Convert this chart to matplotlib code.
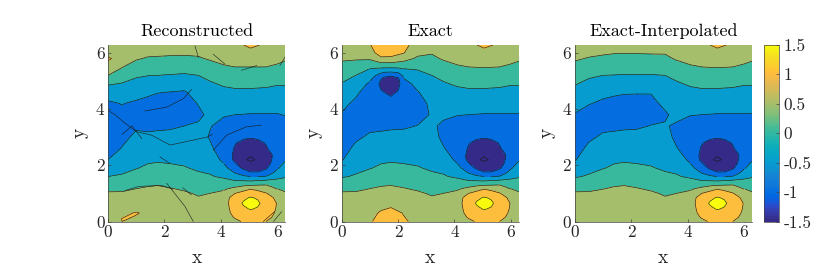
import numpy as np
import matplotlib
matplotlib.use('Agg')
import matplotlib.pyplot as plt
from matplotlib.colors import ListedColormap, Normalize
from matplotlib.cm import ScalarMappable

titles = ['Reconstructed', 'Exact', 'Exact-Interpolated']
ticks = [0, 2, 4, 6]
cbar_ticks = [-1.5, -1, -0.5, 0, 0.5, 1, 1.5]
cbar_labels = ['-1.5', '-1', '-0.5', '0', '0.5', '1', '1.5']
levels = [-1.5, -1, -0.5, 0, 0.5, 1, 1.5]

# grid, one inner list per x column
X = [0, 0.5, 1, 1.4, 1.75, 2.2, 2.7, 3.2, 3.6, 4.1, 4.5, 5.05, 5.6, 6.0, 6.28]
Y = [0, 0.3, 0.65, 1, 1.3, 1.6, 1.9, 2.2, 2.6, 3, 3.4, 3.8, 4.2, 4.6, 4.9, 5.2, 5.5, 5.8, 6.0, 6.28]

exact_z = [
    [.9, .85, .72, .55, .28, -.04, -.29, -.54, -.7, -.8, -.7, -.53, -.34, -.16, -.02, .17, .37, .56, .7, .9],
    [.92, .85, .72, .55, .31, .04, -.1, -.23, -.4, -.58, -.75, -.8, -.62, -.38, -.19, 0, .27, .55, .7, .9],
    [.95, .88, .75, .6, .42, .19, -.02, -.13, -.28, -.43, -.6, -.75, -.9, -.8, -.58, -.25, .07, .57, .78, .98],
    [1.15, 1.05, .85, .65, .47, .23, .07, -.07, -.25, -.41, -.58, -.75, -.88, -.98, -1.02, -.55, .1, .9, 1.25, 1.2],
    [1.2, 1.15, .88, .66, .49, .3, .11, -.05, -.22, -.39, -.56, -.75, -.9, -1.1, -1.2, -.95, .1, .9, 1.2, 1.3],
    [1.05, .98, .78, .6, .45, .25, .08, -.07, -.22, -.38, -.55, -.7, -.85, -.9, -.72, -.38, .1, .7, 1.02, 1.1],
    [.9, .82, .7, .55, .38, .2, .03, -.09, -.22, -.35, -.49, -.62, -.68, -.53, -.33, -.12, .07, .42, .62, .85],
    [.82, .72, .62, .46, .28, .09, -.06, -.15, -.25, -.33, -.43, -.47, -.4, -.25, -.12, 0, .18, .4, .53, .75],
    [.85, .75, .63, .5, .28, .04, -.1, -.25, -.46, -.6, -.58, -.42, -.28, -.15, -.04, .1, .3, .55, .68, .85],
    [.92, .9, .85, .62, .28, -.07, -.38, -.6, -.78, -.85, -.72, -.48, -.29, -.1, .05, .25, .45, .65, .75, .92],
    [.97, 1.2, 1.4, 1.05, .33, -.3, -.88, -1.15, -1.05, -.9, -.72, -.5, -.3, -.08, .1, .3, .5, .72, .82, .88],
    [1.2, 1.4, 1.62, 1.3, .45, -.5, -1.25, -1.58, -1.3, -.97, -.75, -.52, -.3, -.08, .1, .3, .52, .78, .85, 1.1],
    [1.0, 1.2, 1.35, 1.02, .5, -.38, -.92, -1.2, -1.08, -.88, -.7, -.52, -.3, -.1, .08, .28, .5, .72, .83, .93],
    [.85, .95, .98, .72, .33, -.14, -.55, -.8, -.85, -.8, -.7, -.52, -.33, -.13, .03, .23, .43, .63, .75, .85],
    [.8, .75, .68, .55, .28, -.04, -.29, -.54, -.7, -.8, -.7, -.53, -.3, -.12, .03, .2, .37, .56, .65, .8],
]

interp_left = [
    [.8, .75, .68, .55, .28, -.04, -.29, -.54, -.7, -.8, -.7, -.53, -.3, -.12, .03, .2, .37, .56, .65, .8],
    [.8, .75, .68, .55, .31, .04, -.1, -.23, -.4, -.58, -.72, -.72, -.47, -.25, -.1, .06, .25, .47, .6, .8],
    [.8, .76, .7, .58, .42, .19, -.02, -.13, -.28, -.43, -.6, -.72, -.6, -.35, -.15, 0, .2, .42, .55, .75],
    [.8, .77, .72, .62, .47, .23, .07, -.07, -.25, -.41, -.58, -.72, -.65, -.42, -.2, -.01, .18, .38, .52, .72],
    [.8, .78, .74, .63, .49, .3, .11, -.05, -.22, -.39, -.56, -.72, -.67, -.46, -.22, -.02, .17, .37, .52, .72],
    [.8, .77, .7, .6, .45, .25, .08, -.07, -.22, -.38, -.55, -.7, -.66, -.47, -.22, -.02, .17, .37, .52, .7],
    [.78, .74, .66, .55, .38, .2, .03, -.09, -.22, -.35, -.49, -.62, -.6, -.48, -.22, -.02, .17, .38, .53, .7],
    [.72, .68, .6, .46, .28, .09, -.06, -.15, -.25, -.33, -.47, -.55, -.42, -.3, -.17, 0, .17, .4, .53, .72],
    [.75, .72, .63, .5, .28, .04, -.1, -.25, -.47, -.6, -.55, -.4, -.27, -.15, -.05, .1, .3, .55, .68, .85],
]
interp_z = interp_left + exact_z[9:]

recon_z = [
    [.8, .76, .68, .55, .28, 0, -.25, -.5, -.7, -.8, -.8, -.75, -.58, -.25, .05, .5, .75, 1.1, .72, .8],
    [.8, .78, .72, .55, .31, .04, -.1, -.3, -.48, -.6, -.7, -.62, -.48, -.2, -.03, .28, .52, .7, .72, .8],
    [.8, .78, .72, .6, .42, .19, -.02, -.13, -.27, -.42, -.55, -.75, -.58, -.3, -.12, .05, .28, .55, .7, .8],
    [.8, .78, .72, .62, .47, .23, .07, -.07, -.25, -.41, -.6, -.78, -.65, -.4, -.18, .01, .2, .46, .6, .75],
    [.8, .78, .74, .63, .49, .3, .11, -.05, -.22, -.39, -.58, -.78, -.7, -.48, -.22, 0, .2, .45, .58, .72],
    [.8, .78, .7, .6, .45, .25, .08, -.07, -.22, -.38, -.56, -.72, -.7, -.51, -.24, -.02, .18, .43, .57, .7],
    [.78, .75, .66, .55, .38, .2, .03, -.09, -.22, -.35, -.5, -.65, -.68, -.55, -.27, -.04, .15, .42, .56, .7],
    [.72, .7, .6, .46, .28, .09, -.06, -.15, -.25, -.33, -.45, -.58, -.48, -.3, -.15, 0, .2, .45, .58, .72],
    [.75, .72, .63, .5, .28, .04, -.1, -.25, -.4, -.53, -.47, -.42, -.3, -.15, -.05, .1, .3, .55, .68, .85],
    [.85, .88, .85, .62, .28, -.07, -.38, -.6, -.78, -.82, -.65, -.46, -.29, -.1, .05, .25, .45, .65, .75, .9],
    [.95, 1.2, 1.4, 1.05, .33, -.3, -.95, -1.15, -1.05, -.85, -.7, -.5, -.3, -.08, .1, .3, .5, .72, .82, .88],
    [1.2, 1.4, 1.62, 1.25, .45, -.5, -1.25, -1.58, -1.3, -.97, -.75, -.52, -.3, -.08, .1, .3, .5, .78, .85, 1.1],
    [1.0, 1.2, 1.35, 1.02, .5, -.38, -.92, -1.2, -1.08, -.88, -.7, -.52, -.3, -.1, .08, .28, .5, .72, .83, .93],
    [.85, .95, .98, .72, .33, -.14, -.55, -.8, -.85, -.8, -.7, -.52, -.33, -.13, .03, .23, .43, .63, .75, .85],
    [.8, .78, .68, .55, .28, -.04, -.29, -.54, -.7, -.8, -.7, -.48, -.25, -.1, .03, .2, .37, .55, .68, .8],
]

# finer readings around the peaks, one inner list per y row
peak_x = [4.1, 4.3, 4.5, 4.8, 5.05, 5.3, 5.6, 5.8, 6.0]
peak_y = [0, .15, .3, .45, .65, .85, 1, 1.15, 1.3]
peak_z = [
    [.92, .9, .93, 1.03, 1.15, 1.1, 1.0, .93, .85],
    [.91, .93, 1.03, 1.2, 1.3, 1.25, 1.1, 1.0, .9],
    [.9, .97, 1.12, 1.28, 1.38, 1.33, 1.18, 1.04, .95],
    [.88, 1.0, 1.22, 1.43, 1.53, 1.46, 1.25, 1.07, .97],
    [.85, 1.03, 1.3, 1.55, 1.65, 1.58, 1.3, 1.1, .98],
    [.75, 1.0, 1.18, 1.42, 1.53, 1.45, 1.2, 1.05, .87],
    [.62, .8, 1.0, 1.18, 1.27, 1.2, 1.03, .85, .72],
    [.45, .55, .65, .85, 1.0, .9, .75, .6, .5],
    [.28, .3, .33, .4, .45, .48, .5, .42, .33],
]

trough_x = [4.1, 4.3, 4.5, 4.8, 5.05, 5.3, 5.6, 5.8, 6.0]
trough_y = [1.6, 1.75, 1.9, 2.05, 2.2, 2.35, 2.6, 2.8, 3.0, 3.2]
trough_z = [
    [-.07, -.17, -.3, -.42, -.5, -.5, -.47, -.3, -.14],
    [-.22, -.35, -.55, -.8, -.98, -.98, -.85, -.6, -.34],
    [-.38, -.55, -.8, -1.08, -1.2, -1.2, -1.05, -.85, -.55],
    [-.49, -.72, -.95, -1.28, -1.42, -1.38, -1.15, -.95, -.68],
    [-.6, -.85, -1.12, -1.45, -1.56, -1.46, -1.22, -1.0, -.8],
    [-.67, -.9, -1.1, -1.35, -1.48, -1.38, -1.2, -1.02, -.82],
    [-.78, -.9, -1.03, -1.2, -1.25, -1.2, -1.03, -.92, -.85],
    [-.82, -.88, -.98, -1.08, -1.12, -1.08, -.98, -.9, -.83],
    [-.85, -.85, -.88, -.95, -.97, -.95, -.88, -.85, -.8],
    [-.78, -.8, -.81, -.84, -.86, -.84, -.79, -.77, -.75],
]

# second trough, only in the exact panel
trough2_x = [1.0, 1.3, 1.5, 1.75, 2.0, 2.2]
trough2_y = [4.2, 4.5, 4.7, 4.9, 5.05, 5.2, 5.35, 5.5]
trough2_z = [
    [-.9, -.88, -.88, -.9, -.88, -.85],
    [-.82, -.92, -.95, -1.02, -.93, -.88],
    [-.7, -.96, -1.05, -1.12, -1.02, -.85],
    [-.58, -.98, -1.12, -1.2, -1.15, -.72],
    [-.42, -.9, -1.12, -1.2, -1.12, -.6],
    [-.25, -.6, -.9, -.95, -.85, -.38],
    [-.1, -.25, -.35, -.38, -.32, -.12],
    [.07, .1, .1, .1, .1, .1],
]

# orange sliver at the bottom left of the reconstructed panel
sliver_x = [.3, .5, .7, .9, 1.1, 1.2]
sliver_y = [0, .1, .2, .3, .4]
sliver_z = [
    [.8, 1.0, .85, .8, .8, .8],
    [.8, 1.02, 1.02, .85, .8, .8],
    [.8, .85, 1.02, 1.04, .85, .8],
    [.8, .8, .85, 1.02, 1.02, .8],
    [.8, .8, .8, .85, .85, .8],
]

# the thin black scratches in the reconstructed panel
scratch_x = [
    [0, .25, .6, 1.0, 1.55, 2.2, 2.8, 3.5, 3.7],
    [1.3, 2.08, 2.67, 2.96],
    [3.73, 4.2, 4.9, 5.44],
    [2.08, 2.73, 3.02],
    [.6, 1.1, 1.9, 2.3],
    [3.08, 3.2],
    [3.73, 4.14],
    [4.73, 5.27],
    [6.09, 6.27],
    [1.84, 2.2],
    [5.5, 5.9],
    [5.86, 6.15],
    [2.65, 2.95],
    [.5, .85, 1.2],
]
scratch_y = [
    [3.95, 3.8, 3.5, 3.2, 3.07, 2.72, 2.85, 3.0, 3.1],
    [3.93, 4.07, 4.37, 4.7],
    [2.54, 3.07, 3.37, 3.43],
    [1.36, .53, 0],
    [1.1, 1.25, 1.28, 1.15],
    [6.25, 5.84],
    [5.95, 5.6],
    [5.38, 5.55],
    [5.55, 5.85],
    [2.3, 2.06],
    [0, .35],
    [0, .35],
    [1.2, .95],
    [3.1, 3.4, 2.95],
]

# MATLAB parula
parula = ListedColormap([
    [0.2081, 0.1663, 0.5292], [0.2116, 0.1898, 0.5777], [0.2123, 0.2138, 0.6270], [0.2081, 0.2386, 0.6771],
    [0.1959, 0.2645, 0.7279], [0.1707, 0.2919, 0.7792], [0.1253, 0.3242, 0.8303], [0.0591, 0.3598, 0.8683],
    [0.0117, 0.3875, 0.8820], [0.0060, 0.4086, 0.8828], [0.0165, 0.4266, 0.8786], [0.0329, 0.4430, 0.8720],
    [0.0498, 0.4586, 0.8641], [0.0629, 0.4737, 0.8554], [0.0723, 0.4887, 0.8467], [0.0779, 0.5040, 0.8384],
    [0.0793, 0.5200, 0.8312], [0.0749, 0.5375, 0.8263], [0.0641, 0.5570, 0.8240], [0.0488, 0.5772, 0.8228],
    [0.0343, 0.5966, 0.8199], [0.0265, 0.6137, 0.8135], [0.0239, 0.6287, 0.8038], [0.0231, 0.6418, 0.7913],
    [0.0228, 0.6535, 0.7768], [0.0267, 0.6642, 0.7607], [0.0384, 0.6743, 0.7436], [0.0590, 0.6838, 0.7254],
    [0.0843, 0.6928, 0.7062], [0.1133, 0.7015, 0.6859], [0.1453, 0.7098, 0.6646], [0.1801, 0.7177, 0.6424],
    [0.2178, 0.7250, 0.6193], [0.2586, 0.7317, 0.5954], [0.3022, 0.7376, 0.5712], [0.3482, 0.7424, 0.5473],
    [0.3953, 0.7459, 0.5244], [0.4420, 0.7481, 0.5033], [0.4871, 0.7491, 0.4840], [0.5300, 0.7491, 0.4661],
    [0.5709, 0.7485, 0.4494], [0.6099, 0.7473, 0.4337], [0.6473, 0.7456, 0.4188], [0.6834, 0.7435, 0.4044],
    [0.7184, 0.7411, 0.3905], [0.7525, 0.7384, 0.3768], [0.7858, 0.7356, 0.3633], [0.8185, 0.7327, 0.3498],
    [0.8507, 0.7299, 0.3360], [0.8824, 0.7274, 0.3217], [0.9139, 0.7258, 0.3063], [0.9450, 0.7261, 0.2886],
    [0.9739, 0.7314, 0.2666], [0.9938, 0.7455, 0.2403], [0.9990, 0.7653, 0.2164], [0.9955, 0.7861, 0.1967],
    [0.9880, 0.8066, 0.1794], [0.9789, 0.8271, 0.1633], [0.9697, 0.8481, 0.1475], [0.9626, 0.8705, 0.1309],
    [0.9589, 0.8949, 0.1132], [0.9598, 0.9218, 0.0948], [0.9661, 0.9514, 0.0755], [0.9763, 0.9831, 0.0538],
])

plt.rcParams['font.family'] = ['cmr10', 'DejaVu Serif']
plt.rcParams['axes.unicode_minus'] = False
W, H = 830, 277
GRAY = '#404040'
LINE = '#1a1a1a'
norm = Normalize(-1.5, 1.5)
# every band takes the colour of its lower level, as MATLAB contourf does
fill_levels = [-3] + levels + [3]
fill_colors = [parula(norm(-1.5))] + [parula(norm(v)) for v in levels]


def px_axes(fig, left, right, top, bottom):
    return fig.add_axes([left / W, 1 - bottom / H, (right - left) / W, (bottom - top) / H])


def draw_field(ax, xs, ys, Z, zorder):
    ax.contourf(xs, ys, Z, levels=fill_levels, colors=fill_colors, zorder=zorder)
    ax.contour(xs, ys, Z, levels=levels, colors=LINE, linewidths=0.45, linestyles='solid', zorder=zorder + 1)


def draw_panel(ax, z, title):
    draw_field(ax, X, Y, np.array(z).T, 1)
    draw_field(ax, peak_x, peak_y, np.array(peak_z), 3)
    draw_field(ax, trough_x, trough_y, np.array(trough_z), 3)
    ax.set_xlim(0, 6.28)
    ax.set_ylim(0, 6.28)
    ax.set_xticks(ticks)
    ax.set_yticks(ticks)
    ax.set_xticklabels([str(t) for t in ticks])
    ax.set_yticklabels([str(t) for t in ticks])
    ax.tick_params(direction='in', length=2, width=0.5, color=GRAY, labelcolor='#262626', labelsize=12.5, pad=2.5)
    ax.set_title(title, fontsize=13, color='black', pad=6.5)
    ax.set_xlabel('x', fontsize=14, color='#262626', labelpad=6.5)
    ax.set_ylabel('y', fontsize=14, color='#262626', labelpad=5)
    ax.spines['top'].set_visible(False)
    ax.spines['right'].set_visible(False)
    for s in ['left', 'bottom']:
        ax.spines[s].set_linewidth(0.5)
        ax.spines[s].set_color(GRAY)
        ax.spines[s].set_zorder(8)


fig = plt.figure(figsize=(W / 100, H / 100), dpi=100)
ax1 = px_axes(fig, 108, 285.3, 45, 221.5)
ax2 = px_axes(fig, 341.5, 518.8, 45, 221.5)
ax3 = px_axes(fig, 574.7, 752, 45, 221.5)
draw_panel(ax1, recon_z, titles[0])
draw_panel(ax2, exact_z, titles[1])
draw_panel(ax3, interp_z, titles[2])

draw_field(ax2, trough2_x, trough2_y, np.array(trough2_z), 3)
draw_field(ax1, sliver_x, sliver_y, np.array(sliver_z), 3)

for sx, sy in zip(scratch_x, scratch_y):
    ax1.plot(sx, sy, color=LINE, lw=0.4, zorder=6)

cax = px_axes(fig, 764.3, 779.3, 44.5, 221.5)
cb = fig.colorbar(ScalarMappable(norm, parula), cax=cax, ticks=cbar_ticks)
cb.ax.set_yticklabels(cbar_labels)
cb.ax.tick_params(direction='in', length=2, width=0.5, color=GRAY, labelcolor='#262626', labelsize=12.5, pad=3)
cb.outline.set_linewidth(0.5)
cb.outline.set_edgecolor(GRAY)

fig.savefig('out.png', dpi=100)
